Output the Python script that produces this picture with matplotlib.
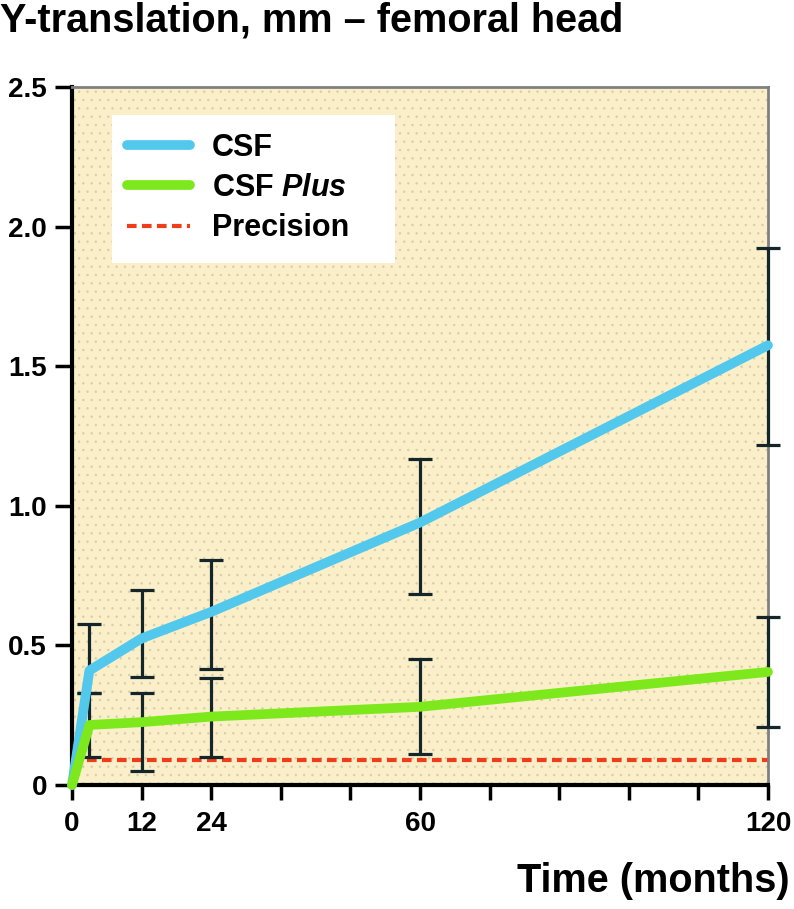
import numpy as np
import matplotlib
matplotlib.use("Agg")
from matplotlib import pyplot as plt
from matplotlib.patches import Rectangle

plt.rcParams['font.family'] = ['Liberation Sans', 'DejaVu Sans']
plt.rcParams['mathtext.fontset'] = 'custom'
plt.rcParams['mathtext.it'] = 'Liberation Sans:italic:bold'
plt.rcParams['mathtext.rm'] = 'Liberation Sans:bold'
plt.rcParams['hatch.linewidth'] = 0.5

# data
months = [0, 3, 12, 24, 60, 120]
csf = [0.0, 0.41, 0.525, 0.62, 0.94, 1.575]
csf_plus = [0.0, 0.215, 0.225, 0.245, 0.28, 0.405]

err_x = [3, 12, 24, 60, 120]
csf_lo = [0.33, 0.387, 0.415, 0.684, 1.218]
csf_hi = [0.577, 0.70, 0.806, 1.168, 1.923]
plus_lo = [0.10, 0.05, 0.10, 0.11, 0.208]
plus_hi = [0.33, 0.33, 0.383, 0.45, 0.60]

precision = 0.09
xticks = [0, 12, 24, 36, 48, 60, 72, 84, 96, 108, 120]
xlabels = ['0', '12', '24', '', '', '60', '', '', '', '', '120']
yticks = [0, 0.5, 1.0, 1.5, 2.0, 2.5]
ylabels = ['0', '0.5', '1.0', '1.5', '2.0', '2.5']

fig = plt.figure(figsize=(7.94, 9.09), dpi=100)
ax = fig.add_axes([72/794, 124/909, 696/794, 698/909])
ax.set_facecolor('#fbefca')
# faint dotted texture of the background
ax.add_patch(Rectangle((0, 0), 1, 1, transform=ax.transAxes, fill=False,
                       hatch='..', edgecolor='#d9cca8', lw=0, zorder=0))

# error bars, drawn as lo/hi ranges
for lo, hi in [(csf_lo, csf_hi), (plus_lo, plus_hi)]:
    lo = np.array(lo); hi = np.array(hi)
    mid = (lo + hi) / 2
    ax.errorbar(err_x, mid, yerr=[mid - lo, hi - mid], fmt='none',
                ecolor='#15262a', elinewidth=2.3, capsize=8.3, capthick=2.3,
                zorder=3, clip_on=False)

ax.plot(months, csf, color='#52c8ec', lw=7, solid_capstyle='round',
        label='CSF', zorder=4, clip_on=False)
ax.plot(months, csf_plus, color='#7de81c', lw=7, solid_capstyle='round',
        label='CSF $\\it{Plus}$', zorder=4, clip_on=False)
ax.plot([0, 120], [precision, precision], color='#f03c18', lw=3,
        dashes=(2.3, 1.3), label='Precision', zorder=2)

ax.set_xlim(0, 120)
ax.set_ylim(0, 2.5)
ax.set_xticks(xticks)
ax.set_xticklabels(xlabels, fontsize=20, fontweight='bold')
ax.set_yticks(yticks)
ax.set_yticklabels(ylabels, fontsize=20, fontweight='bold')
ax.tick_params(direction='out', width=2.5, colors='black')
ax.tick_params(axis='x', length=11, pad=8)
ax.tick_params(axis='y', length=12, pad=6)

for s in ['left', 'bottom']:
    ax.spines[s].set_linewidth(3)
    ax.spines[s].set_color('black')
for s in ['top', 'right']:
    ax.spines[s].set_linewidth(2)
    ax.spines[s].set_color('#808080')

# white legend box
ax.add_patch(Rectangle((0.0575, 0.748), 0.4066, 0.212, transform=ax.transAxes,
                       facecolor='white', edgecolor='none', zorder=5))
leg = ax.legend(loc='upper left', bbox_to_anchor=(0.079, 0.934),
                prop={'size': 22, 'weight': 'bold'}, frameon=False,
                handlelength=2.05, borderpad=0, labelspacing=0.33,
                handletextpad=0.72, borderaxespad=0)
leg.set_zorder(6)

fig.text(0.0, 1 - 21/909, 'Y-translation, mm – femoral head', fontsize=28.5,
         fontweight='bold', va='center', ha='left')
fig.text(1 - 4/794, 1 - 881/909, 'Time (months)', fontsize=28.5,
         fontweight='bold', va='center', ha='right')

fig.savefig('out.png', dpi=100)
